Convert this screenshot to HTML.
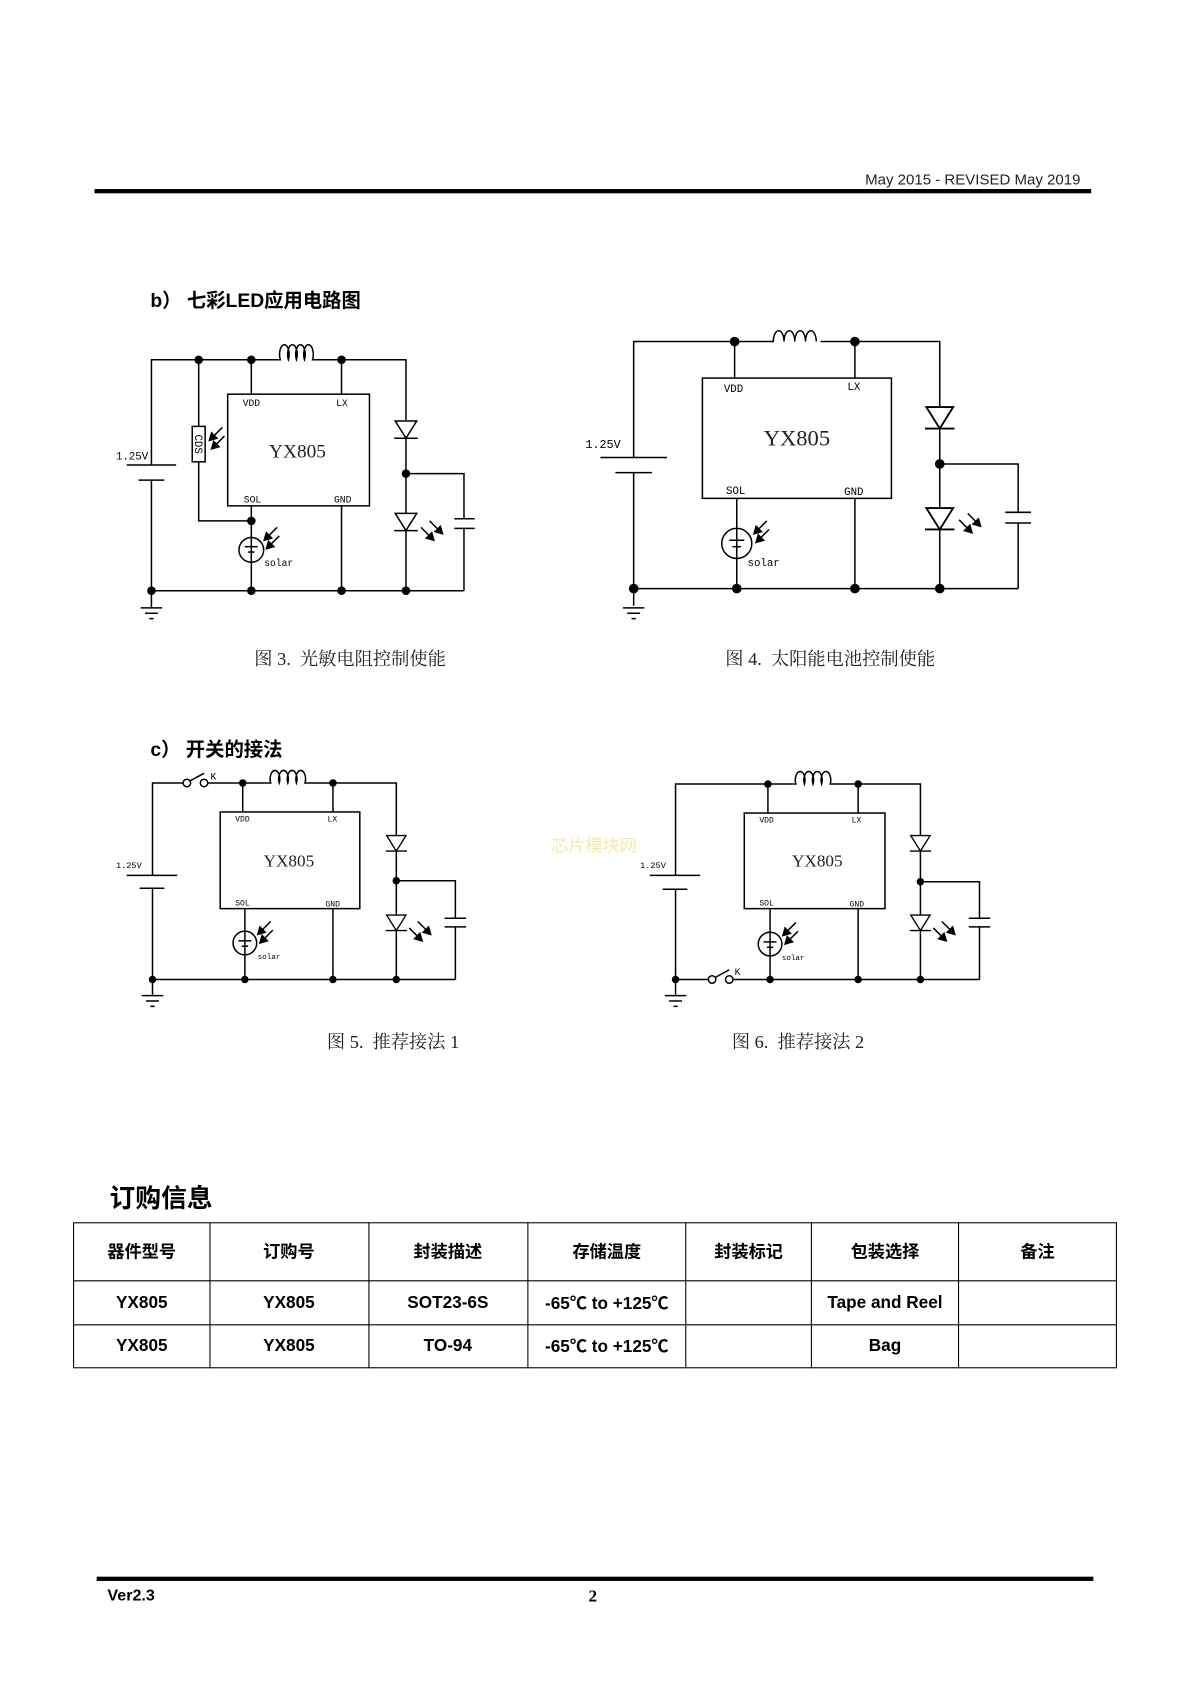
<!DOCTYPE html>
<html><head><meta charset="utf-8"><style>
html,body{margin:0;padding:0;background:#fff;}
svg{display:block}
.s{font-family:"Liberation Sans","Noto Sans CJK SC",sans-serif}
.m{font-family:"Liberation Serif","Noto Serif CJK SC",serif}
.mono{font-family:"Liberation Mono",monospace}
</style></head><body>
<svg width="1190" height="1683" viewBox="0 0 1108 1567" preserveAspectRatio="none" xmlns="http://www.w3.org/2000/svg">
<defs>
<g id="dio"><polygon points="-10,0 10,0 0,16" fill="none"/><line x1="-11" y1="16" x2="11" y2="16"/></g>
<g id="ain"><line x1="12" y1="-12" x2="2" y2="-2"/><polygon points="0,0 2,-7 7,-2" fill="#000"/><line x1="14" y1="-4" x2="4" y2="6"/><polygon points="2,8 4,1 9,6" fill="#000"/></g>
<g id="aout"><line x1="0" y1="0" x2="10" y2="10"/><polygon points="12,12 5,10 10,5" fill="#000"/><line x1="8" y1="-6" x2="18" y2="4"/><polygon points="20,6 13,4 18,-1" fill="#000"/></g>
<g id="gnd"><line x1="-10" y1="0" x2="10" y2="0"/><line x1="-6" y1="5" x2="6" y2="5"/><line x1="-2" y1="10" x2="2" y2="10"/></g>
</defs>
<rect width="1108" height="1567" fill="#fff"/>
<text x="1006" y="172" class="s" font-size="14" text-anchor="end" fill="#222">May  2015  -  REVISED  May  2019</text>
<rect x="88" y="176" width="928" height="4" fill="#000"/>
<text x="140" y="286" class="s" font-size="18" font-weight="bold">b） 七彩LED应用电路图</text>
<text x="140" y="704" class="s" font-size="18" font-weight="bold">c） 开关的接法</text>

<g stroke="#000" stroke-width="1.4" fill="none">
<!-- FIG 3 -->
<polyline points="141,433 141,335 258,335"/><polyline points="294,335 378,335 378,391"/>
<path d="M258 335 h3 a4.5 9 0 1 1 7.5 0 a4.5 9 0 1 1 7.5 0 a4.5 9 0 1 1 7.5 0 a4.5 9 0 1 1 7.5 0 h3"/>
<line x1="234" y1="335" x2="234" y2="367"/><line x1="318" y1="335" x2="318" y2="367"/>
<rect x="212" y="367" width="132" height="104"/>
<line x1="118" y1="433" x2="164" y2="433"/><line x1="129" y1="447" x2="153" y2="447"/>
<line x1="141" y1="447" x2="141" y2="550"/>
<polyline points="185,335 185,397"/><rect x="179" y="397" width="12" height="33"/><polyline points="185,430 185,485 234,485"/>
<line x1="234" y1="471" x2="234" y2="550"/>
<circle cx="234" cy="512" r="11.5"/>
<line x1="228" y1="509" x2="240" y2="509"/><line x1="231" y1="514" x2="237" y2="514"/>
<line x1="318" y1="471" x2="318" y2="550"/>
<use href="#dio" x="378" y="392"/><line x1="378" y1="408" x2="378" y2="478"/>
<use href="#dio" x="378" y="478"/><line x1="378" y1="494" x2="378" y2="550"/>
<polyline points="378,441 432,441 432,483"/><line x1="423" y1="483" x2="442" y2="483"/><line x1="423" y1="492" x2="442" y2="492"/><line x1="432" y1="492" x2="432" y2="550"/>
<line x1="141" y1="550" x2="432" y2="550"/>
<line x1="141" y1="550" x2="141" y2="566"/><use href="#gnd" x="141" y="566"/>
<use href="#ain" x="195" y="410"/><use href="#ain" x="246" y="503"/><use href="#aout" x="392" y="491"/>

<!-- FIG 4 -->
<polyline points="590,426 590,318 716,318"/><polyline points="764,318 875,318 875,378"/>
<path d="M716 318 h4 a5 10 0 1 1 10 0 a5 10 0 1 1 10 0 a5 10 0 1 1 10 0 a5 10 0 1 1 10 0 h0"/>
<line x1="684" y1="318" x2="684" y2="352"/><line x1="796" y1="318" x2="796" y2="352"/>
<rect x="654" y="352" width="176" height="112"/>
<line x1="559" y1="426" x2="621" y2="426"/><line x1="573" y1="440" x2="607" y2="440"/>
<line x1="590" y1="440" x2="590" y2="548"/>
<line x1="686" y1="464" x2="686" y2="548"/>
<circle cx="686" cy="506" r="14"/>
<line x1="679" y1="503" x2="693" y2="503"/><line x1="682" y1="509" x2="690" y2="509"/>
<line x1="796" y1="464" x2="796" y2="548"/>
<use href="#dio" x="875" y="379" transform="translate(-218.75,-94.75) scale(1.25)"/>
<line x1="875" y1="398" x2="875" y2="473"/>
<use href="#dio" x="875" y="473" transform="translate(-218.75,-118.25) scale(1.25)"/>
<line x1="875" y1="493" x2="875" y2="548"/>
<polyline points="875,432 948,432 948,477"/><line x1="936" y1="477" x2="960" y2="477"/><line x1="936" y1="487" x2="960" y2="487"/><line x1="948" y1="487" x2="948" y2="548"/>
<line x1="590" y1="548" x2="948" y2="548"/>
<line x1="590" y1="548" x2="590" y2="564"/><use href="#gnd" x="590" y="566"/>
<use href="#ain" x="702" y="497"/><use href="#aout" x="893" y="484"/>

<!-- FIG 5 -->
<polyline points="142,815 142,729 170,729"/><circle cx="174" cy="729" r="3.5"/><circle cx="190" cy="729" r="3.5"/><line x1="177" y1="727" x2="190" y2="720"/>
<line x1="194" y1="729" x2="250" y2="729"/>
<path d="M250 729 h2 a4.5 8 0 1 1 8 0 a4.5 8 0 1 1 8 0 a4.5 8 0 1 1 8 0 a4.5 8 0 1 1 8 0 h2"/>
<polyline points="286,729 369,729 369,778"/>
<line x1="226" y1="729" x2="226" y2="756"/><line x1="310" y1="729" x2="310" y2="756"/>
<rect x="205" y="756" width="130" height="90"/>
<line x1="118" y1="815" x2="165" y2="815"/><line x1="130" y1="827" x2="153" y2="827"/>
<line x1="142" y1="827" x2="142" y2="912"/>
<line x1="228" y1="846" x2="228" y2="912"/>
<circle cx="228" cy="878" r="11"/><line x1="222" y1="876" x2="234" y2="876"/><line x1="225" y1="881" x2="231" y2="881"/>
<line x1="310" y1="846" x2="310" y2="912"/>
<use href="#dio" x="369" y="778" transform="translate(36.9,77.8) scale(0.9)"/><line x1="369" y1="793" x2="369" y2="852"/>
<use href="#dio" x="369" y="852" transform="translate(36.9,85.2) scale(0.9)"/><line x1="369" y1="867" x2="369" y2="912"/>
<polyline points="369,820 424,820 424,855"/><line x1="414" y1="855" x2="434" y2="855"/><line x1="414" y1="863" x2="434" y2="863"/><line x1="424" y1="863" x2="424" y2="912"/>
<line x1="142" y1="912" x2="424" y2="912"/>
<line x1="142" y1="912" x2="142" y2="926"/><use href="#gnd" x="142" y="927"/>
<use href="#ain" x="240" y="870"/><use href="#aout" x="381" y="864"/>

<!-- FIG 6 -->
<polyline points="629,815 629,730 739,730"/>
<path d="M739 730 h2 a4.5 8 0 1 1 8 0 a4.5 8 0 1 1 8 0 a4.5 8 0 1 1 8 0 a4.5 8 0 1 1 8 0 h2"/>
<polyline points="775,730 857,730 857,778"/>
<line x1="715" y1="730" x2="715" y2="757"/><line x1="799" y1="730" x2="799" y2="757"/>
<rect x="693" y="757" width="131" height="89"/>
<line x1="605" y1="815" x2="652" y2="815"/><line x1="617" y1="828" x2="640" y2="828"/>
<line x1="629" y1="828" x2="629" y2="912"/>
<line x1="717" y1="846" x2="717" y2="912"/>
<circle cx="717" cy="879" r="11"/><line x1="711" y1="877" x2="723" y2="877"/><line x1="714" y1="882" x2="720" y2="882"/>
<line x1="799" y1="846" x2="799" y2="912"/>
<use href="#dio" x="857" y="778" transform="translate(85.7,77.8) scale(0.9)"/><line x1="857" y1="793" x2="857" y2="852"/>
<use href="#dio" x="857" y="852" transform="translate(85.7,85.2) scale(0.9)"/><line x1="857" y1="867" x2="857" y2="912"/>
<polyline points="857,821 912,821 912,855"/><line x1="902" y1="855" x2="922" y2="855"/><line x1="902" y1="863" x2="922" y2="863"/><line x1="912" y1="863" x2="912" y2="912"/>
<line x1="629" y1="912" x2="659" y2="912"/><circle cx="663" cy="912" r="3.5"/><circle cx="679" cy="912" r="3.5"/><line x1="666" y1="910" x2="679" y2="903"/>
<line x1="683" y1="912" x2="912" y2="912"/>
<line x1="629" y1="912" x2="629" y2="926"/><use href="#gnd" x="629" y="927"/>
<use href="#ain" x="729" y="871"/><use href="#aout" x="869" y="864"/>
</g>
<g fill="#000">
<circle cx="185" cy="335" r="4"/><circle cx="234" cy="335" r="4"/><circle cx="318" cy="335" r="4"/><circle cx="234" cy="485" r="4"/><circle cx="378" cy="441" r="4"/><circle cx="141" cy="550" r="4"/><circle cx="234" cy="550" r="4"/><circle cx="318" cy="550" r="4"/><circle cx="378" cy="550" r="4"/>
<circle cx="684" cy="318" r="4.5"/><circle cx="796" cy="318" r="4.5"/><circle cx="875" cy="432" r="4.5"/><circle cx="590" cy="548" r="4.5"/><circle cx="686" cy="548" r="4.5"/><circle cx="796" cy="548" r="4.5"/><circle cx="875" cy="548" r="4.5"/>
<circle cx="226" cy="729" r="3.5"/><circle cx="310" cy="729" r="3.5"/><circle cx="369" cy="820" r="3.5"/><circle cx="142" cy="912" r="3.5"/><circle cx="228" cy="912" r="3.5"/><circle cx="310" cy="912" r="3.5"/><circle cx="369" cy="912" r="3.5"/>
<circle cx="715" cy="730" r="3.5"/><circle cx="799" cy="730" r="3.5"/><circle cx="857" cy="821" r="3.5"/><circle cx="629" cy="912" r="3.5"/><circle cx="717" cy="912" r="3.5"/><circle cx="799" cy="912" r="3.5"/><circle cx="857" cy="912" r="3.5"/>
</g>
<g class="mono" fill="#000">
<text x="108" y="428" font-size="10">1.25V</text>
<text x="226" y="378" font-size="9">VDD</text><text x="313" y="378" font-size="9">LX</text>
<text x="227" y="468" font-size="9">SOL</text><text x="311" y="468" font-size="9">GND</text>
<text x="246" y="527" font-size="9">solar</text>
<text transform="translate(181.5,413.5) rotate(90)" font-size="10" text-anchor="middle">CDS</text>
<text x="545" y="417" font-size="11">1.25V</text>
<text x="674" y="365" font-size="10">VDD</text><text x="789" y="363" font-size="10">LX</text>
<text x="676" y="460" font-size="10">SOL</text><text x="786" y="461" font-size="10">GND</text>
<text x="696" y="527" font-size="10">solar</text>
<text x="108" y="808" font-size="8">1.25V</text>
<text x="219" y="765" font-size="7.5">VDD</text><text x="305" y="765" font-size="7.5">LX</text>
<text x="219" y="843" font-size="7.5">SOL</text><text x="303" y="844" font-size="7.5">GND</text>
<text x="240" y="893" font-size="7">solar</text><text x="196" y="726" font-size="9">K</text>
<text x="596" y="808" font-size="8">1.25V</text>
<text x="707" y="766" font-size="7.5">VDD</text><text x="793" y="766" font-size="7.5">LX</text>
<text x="707" y="843" font-size="7.5">SOL</text><text x="791" y="844" font-size="7.5">GND</text>
<text x="728" y="894" font-size="7">solar</text><text x="684" y="908" font-size="9">K</text>
</g>
<g class="m" fill="#222">
<text x="277" y="426" font-size="18" text-anchor="middle">YX805</text>
<text x="742" y="415" font-size="21" text-anchor="middle">YX805</text>
<text x="269" y="807" font-size="16" text-anchor="middle">YX805</text>
<text x="761" y="807" font-size="16" text-anchor="middle">YX805</text>
<text x="326" y="619" font-size="17" text-anchor="middle" xml:space="preserve">图 3.  光敏电阻控制使能</text>
<text x="773" y="619" font-size="17" text-anchor="middle" xml:space="preserve">图 4.  太阳能电池控制使能</text>
<text x="366" y="976" font-size="17" text-anchor="middle" xml:space="preserve">图 5.  推荐接法 1</text>
<text x="743" y="976" font-size="17" text-anchor="middle" xml:space="preserve">图 6.  推荐接法 2</text>
</g>
<text x="553" y="793" class="s" font-size="16" fill="#f6e9a8" text-anchor="middle">芯片模块网</text>
<text x="102" y="1124" class="s" font-size="24" font-weight="bold">订购信息</text>
<g stroke="#000" stroke-width="1" fill="none">
<rect x="68.5" y="1138.5" width="971" height="135"/>
<line x1="68" y1="1192.5" x2="1040" y2="1192.5"/><line x1="68" y1="1233.5" x2="1040" y2="1233.5"/>
<line x1="195.5" y1="1138" x2="195.5" y2="1274"/><line x1="343.5" y1="1138" x2="343.5" y2="1274"/><line x1="491.5" y1="1138" x2="491.5" y2="1274"/><line x1="638.5" y1="1138" x2="638.5" y2="1274"/><line x1="755.5" y1="1138" x2="755.5" y2="1274"/><line x1="892.5" y1="1138" x2="892.5" y2="1274"/>
</g>
<g class="s" font-size="16" font-weight="bold" text-anchor="middle" fill="#000">
<text x="132" y="1171">器件型号</text><text x="269" y="1171">订购号</text><text x="417" y="1171">封装描述</text><text x="565" y="1171">存储温度</text><text x="697" y="1171">封装标记</text><text x="824" y="1171">包装选择</text><text x="966" y="1171">备注</text>
<text x="132" y="1218">YX805</text><text x="269" y="1218">YX805</text><text x="417" y="1218">SOT23-6S</text><text x="565" y="1219">-65℃  to +125℃</text><text x="824" y="1218">Tape and Reel</text>
<text x="132" y="1258">YX805</text><text x="269" y="1258">YX805</text><text x="417" y="1258">TO-94</text><text x="565" y="1259">-65℃  to +125℃</text><text x="824" y="1258">Bag</text>
</g>
<rect x="90" y="1468" width="928" height="4" fill="#000"/>
<text x="100" y="1490" class="s" font-size="15" font-weight="bold">Ver2.3</text>
<text x="552" y="1491" class="m" font-size="16" font-weight="bold" text-anchor="middle">2</text>
</svg>
</body></html>
